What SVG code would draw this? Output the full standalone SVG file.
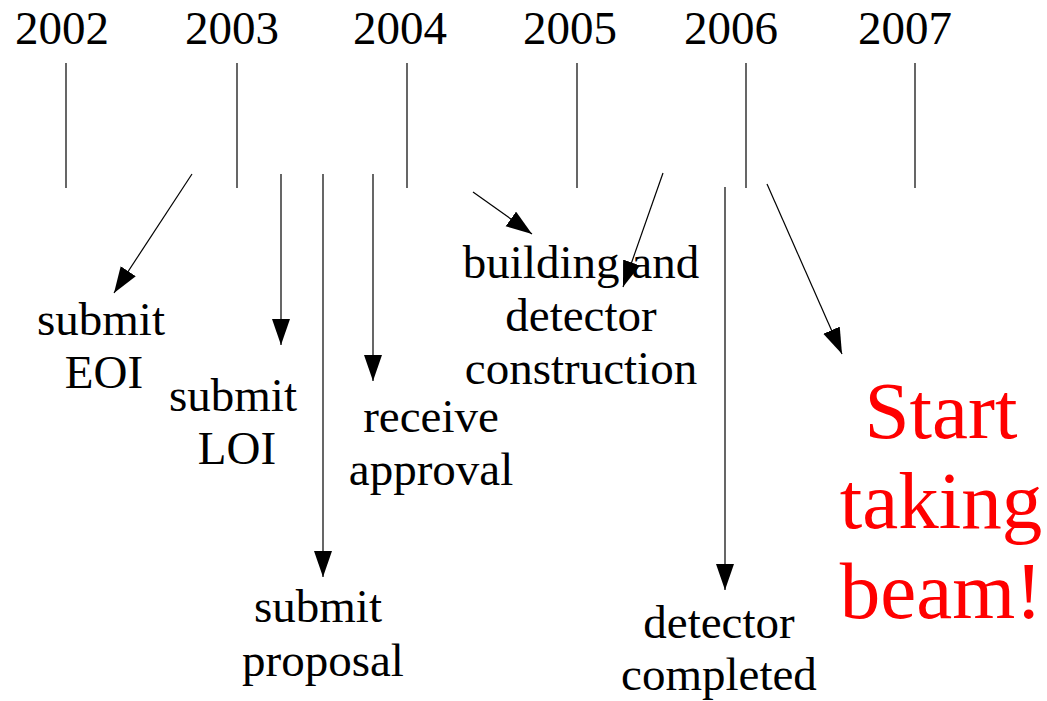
<svg xmlns="http://www.w3.org/2000/svg" width="1047" height="701" viewBox="0 0 1047 701">
<style>
text{font-family:"Liberation Serif","Times New Roman",serif;fill:#000;text-anchor:middle}
.yr{font-size:47px}
.lb{font-size:47px}
.big{font-size:81px;fill:#ff0000}
.tick{stroke:#000;stroke-width:1.2}
.arr{stroke:#000;stroke-width:1.2;fill:none;marker-end:url(#ah)}
</style>
<defs>
<marker id="ah" markerUnits="userSpaceOnUse" markerWidth="28" markerHeight="20" refX="26" refY="9" orient="auto" viewBox="0 0 28 20">
<path d="M0,0 L26,9 L0,18 z" fill="#000"/>
</marker>
</defs>
<g id="years">
<text class="yr" x="62" y="44">2002</text>
<text class="yr" x="232" y="44">2003</text>
<text class="yr" x="400" y="44">2004</text>
<text class="yr" x="570" y="44">2005</text>
<text class="yr" x="731" y="44">2006</text>
<text class="yr" x="905" y="44">2007</text>
<line class="tick" x1="66" y1="63" x2="66" y2="188"/>
<line class="tick" x1="237" y1="63" x2="237" y2="188"/>
<line class="tick" x1="407" y1="63" x2="407" y2="188"/>
<line class="tick" x1="577" y1="63" x2="577" y2="188"/>
<line class="tick" x1="746" y1="63" x2="746" y2="188"/>
<line class="tick" x1="915" y1="63" x2="915" y2="188"/>
</g>
<g id="connectors">
<line class="arr" x1="192" y1="174" x2="114" y2="293"/>
<line class="arr" x1="281" y1="174" x2="281" y2="345"/>
<line class="arr" x1="323" y1="174" x2="323" y2="577"/>
<line class="arr" x1="373" y1="174" x2="373" y2="381"/>
<line class="arr" x1="473" y1="192" x2="532" y2="234"/>
<line class="arr" x1="663" y1="173" x2="623" y2="287"/>
<line class="arr" x1="725" y1="187" x2="725" y2="590"/>
<line class="arr" x1="767" y1="184" x2="842" y2="354"/>
</g>
<g id="eoi"><text class="lb" x="101" y="335">submit</text><text class="lb" x="104" y="388">EOI</text></g>
<g id="loi"><text class="lb" x="233" y="411">submit</text><text class="lb" x="237" y="464">LOI</text></g>
<g id="approval"><text class="lb" x="431" y="432">receive</text><text class="lb" x="431" y="485">approval</text></g>
<g id="building"><text class="lb" x="581" y="278">building and</text><text class="lb" x="581" y="331">detector</text><text class="lb" x="581" y="384">construction</text></g>
<g id="proposal"><text class="lb" x="318" y="622">submit</text><text class="lb" x="323" y="676">proposal</text></g>
<g id="completed"><text class="lb" x="719" y="638">detector</text><text class="lb" x="719" y="690">completed</text></g>
<g id="beam"><text class="big" x="941" y="438">Start</text><text class="big" x="941" y="528">taking</text><text class="big" x="941" y="618">beam!</text></g>
</svg>
